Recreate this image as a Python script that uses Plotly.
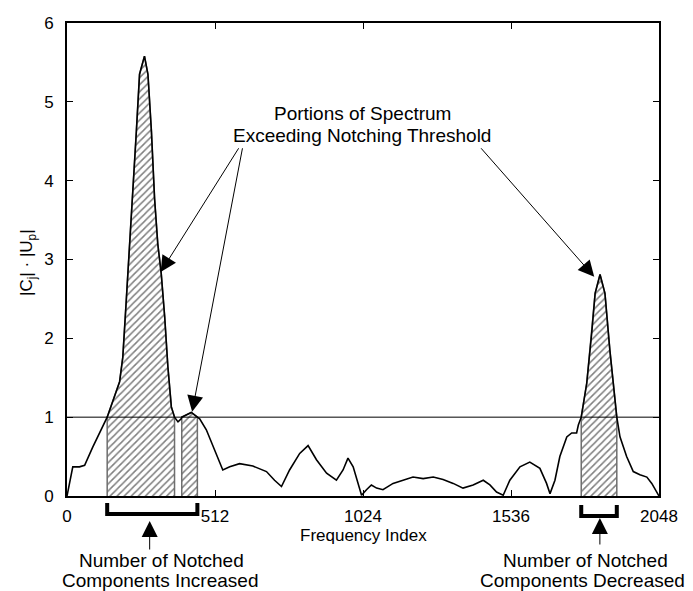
import numpy as np
import plotly.graph_objects as go

# ---- data ----
freq_index = [0, 20, 43, 61, 89, 124, 139, 182, 193, 205, 216, 226, 240, 251, 268,
              280, 292, 303, 314, 326, 338, 349, 361, 372, 384, 395, 397, 430, 451,
              459, 482, 517, 539, 563, 597, 643, 690, 718, 742, 770, 805, 834, 863,
              898, 932, 955, 972, 990, 1013, 1019, 1036, 1053, 1071, 1093, 1128, 1163,
              1197, 1232, 1267, 1301, 1336, 1370, 1405, 1440, 1463, 1486, 1509, 1532,
              1567, 1601, 1636, 1659, 1671, 1688, 1705, 1729, 1746, 1763, 1769, 1779,
              1798, 1815, 1827, 1844, 1861, 1878, 1896, 1902, 1913, 1936, 1959, 1982,
              2006, 2023, 2048]
magnitude = [0.0, 0.37, 0.37, 0.39, 0.62, 0.88, 1.0, 1.45, 1.76, 2.48, 3.11, 3.75, 4.63,
             5.35, 5.58, 5.35, 4.63, 3.77, 3.2, 2.82, 2.27, 1.64, 1.13, 1.0, 0.94, 0.98,
             1.0, 1.06, 1.0, 0.98, 0.84, 0.54, 0.33, 0.37, 0.41, 0.38, 0.31, 0.2, 0.12,
             0.33, 0.54, 0.64, 0.46, 0.29, 0.2, 0.33, 0.48, 0.37, 0.08, 0.01, 0.08, 0.14,
             0.1, 0.08, 0.16, 0.2, 0.24, 0.22, 0.24, 0.21, 0.16, 0.1, 0.14, 0.2, 0.14,
             0.05, 0.01, 0.2, 0.37, 0.43, 0.35, 0.16, 0.03, 0.2, 0.5, 0.75, 0.8, 0.8, 0.9,
             1.0, 1.43, 2.06, 2.57, 2.81, 2.57, 1.85, 1.22, 1.0, 0.75, 0.5, 0.31, 0.27,
             0.24, 0.16, 0.0]
threshold = 1.0
notched_intervals = [(139, 372), (397, 451), (1779, 1902)]
x_ticks = [0, 512, 1024, 1536, 2048]
y_ticks = [0, 1, 2, 3, 4, 5, 6]
bracket_increased = (139, 451)
bracket_decreased = (1779, 1902)

FONT = "Arial, 'Liberation Sans', Helvetica, sans-serif"

x = np.array(freq_index, dtype=float)
y = np.array(magnitude, dtype=float)

fig = go.Figure()

# hatched regions above the threshold
for a, b in notched_intervals:
    m = (x >= a) & (x <= b)
    xs = [a] + list(x[m]) + [b]
    ys = [0] + list(y[m]) + [0]
    fig.add_trace(go.Scatter(
        x=xs, y=ys, mode="lines", fill="toself",
        fillcolor="white",
        fillpattern=dict(shape="/", size=5, solidity=0.3, fgcolor="black", bgcolor="white"),
        line=dict(color="#6e6e6e", width=1.5), hoverinfo="skip", showlegend=False))

# threshold line
fig.add_trace(go.Scatter(x=[0, 2048], y=[threshold, threshold], mode="lines",
                         line=dict(color="black", width=1), showlegend=False))

# spectrum
fig.add_trace(go.Scatter(x=x, y=y, mode="lines",
                         line=dict(color="black", width=1.6), showlegend=False))

L, R, T, B = 67, 34, 23, 95
W, H = 693, 591
pw, ph = W - L - R, H - T - B


def px(xp):
    return (xp - L) / pw


def py(yp):
    return (H - B - yp) / ph


annotations = []
# main text
for txt, yp in [("Portions of Spectrum", 113), ("Exceeding Notching Threshold", 135)]:
    annotations.append(dict(xref="paper", yref="paper", x=px(362), y=py(yp), text=txt,
                            showarrow=False, xanchor="center", yanchor="middle",
                            font=dict(family=FONT, size=19, color="black")))
# arrows to the peaks
for (tx, ty, hx, hy) in [(597, 4.43, 324, 2.84), (608, 4.43, 433, 1.07), (1428, 4.43, 1824, 2.78)]:
    annotations.append(dict(xref="x", yref="y", axref="x", ayref="y", x=hx, y=hy, ax=tx, ay=ty,
                            text="", showarrow=True, arrowhead=2, arrowsize=3.2,
                            arrowwidth=1, arrowcolor="black"))
# bottom texts
for txt, xp, yp in [("Number of Notched", 161, 560), ("Components Increased", 160, 580),
                    ("Number of Notched", 585, 560), ("Components Decreased", 582, 580)]:
    annotations.append(dict(xref="paper", yref="paper", x=px(xp), y=py(yp), text=txt,
                            showarrow=False, xanchor="center", yanchor="middle",
                            font=dict(family=FONT, size=19, color="black")))
# bottom arrows
for hx, hy, ty in [(sum(bracket_increased) / 2 - 9, 521, 551), (sum(bracket_decreased) / 2 + 3, 518, 546)]:
    annotations.append(dict(xref="x", yref="paper", x=hx, y=py(hy), ax=0, ay=ty - hy,
                            text="", showarrow=True, arrowhead=2, arrowsize=3.2,
                            arrowwidth=1, arrowcolor="black"))
# axis titles
annotations.append(dict(xref="paper", yref="paper", x=px(363), y=py(535), text="Frequency Index",
                        showarrow=False, xanchor="center", yanchor="middle",
                        font=dict(family=FONT, size=17, color="black")))
annotations.append(dict(xref="paper", yref="paper", x=px(28), y=py(263),
                        text="|C<sub>j</sub>| · |U<sub>p</sub>|", textangle=-90,
                        showarrow=False, xanchor="center", yanchor="middle",
                        font=dict(family=FONT, size=17, color="black")))

shapes = []
for (a, b), top, bot in [(bracket_increased, 503, 514), (bracket_decreased, 505, 516)]:
    shapes.append(dict(type="path", xref="x", yref="paper",
                       path=f"M {a},{py(top)} L {a},{py(bot)} L {b},{py(bot)} L {b},{py(top)}",
                       line=dict(color="black", width=4)))

axis_common = dict(ticks="inside", ticklen=6, tickwidth=1, tickcolor="black",
                   showline=True, linewidth=2, linecolor="black", mirror="allticks",
                   showgrid=False, zeroline=False,
                   tickfont=dict(family=FONT, size=17, color="black"))

fig.update_layout(
    width=W, height=H,
    margin=dict(l=L, r=R, t=T, b=B, pad=0),
    paper_bgcolor="white", plot_bgcolor="white",
    xaxis=dict(range=[0, 2048], tickvals=x_ticks, ticktext=[str(v) for v in x_ticks],
               ticklabelstandoff=4, **axis_common),
    yaxis=dict(range=[0, 6], tickvals=y_ticks, ticklabelstandoff=8, **axis_common),
    annotations=annotations, shapes=shapes, showlegend=False,
)

fig.write_html("out.html")
